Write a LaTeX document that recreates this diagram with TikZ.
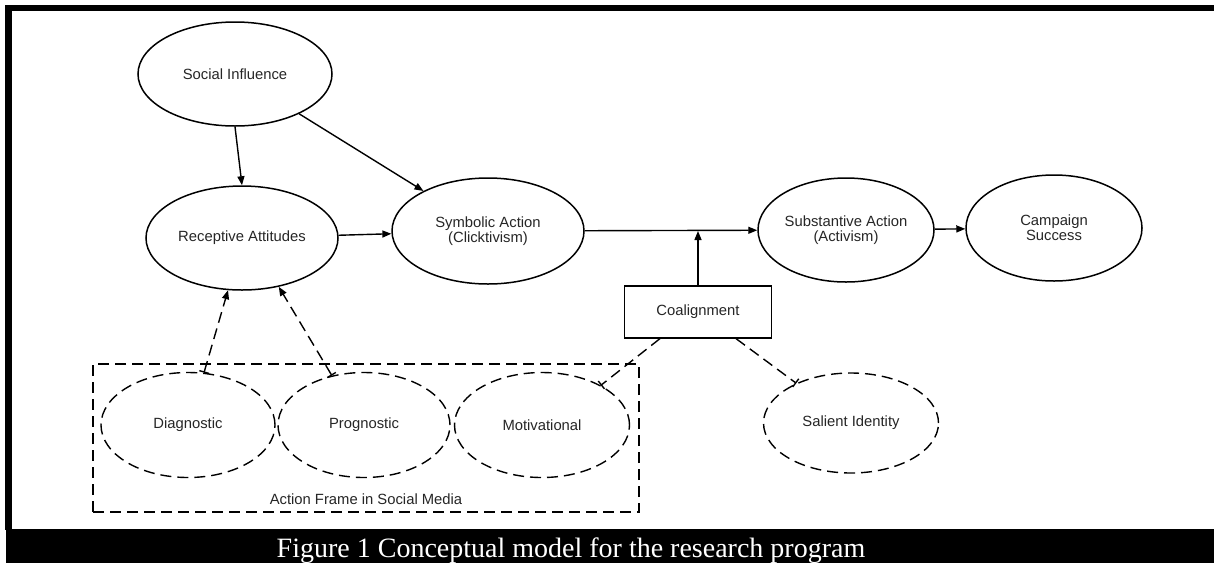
\documentclass[tikz,border=0pt]{standalone}
\usepackage{fontspec}
\setmainfont{Liberation Sans}
\newfontfamily\capfont{Liberation Serif}
\usetikzlibrary{arrows.meta,shapes.geometric}
\begin{document}
\begin{tikzpicture}[x=1pt,y=-1pt,
  lbl/.style={font=\fontsize{14.8}{14.8}\selectfont, text=black!85, align=center},
  ell/.style={ellipse, draw=black, line width=1.5pt, inner sep=0pt, lbl},
  dell/.style={ell, line width=1.4pt, dash pattern=on 11pt off 6pt},
  boxnode/.style={rectangle, draw=black, line width=1.4pt, inner sep=0pt, lbl},
  dashbox/.style={rectangle, draw=black, line width=1.4pt, inner sep=0pt, dash pattern=on 11pt off 6pt},
  edge/.style={draw=black, line width=1.4pt, -{Triangle[length=9pt,width=7pt]}},
  dedge/.style={draw=black, line width=1.4pt, dash pattern=on 11pt off 6pt},
]
\useasboundingbox (0,0) rectangle (1214,563);
\fill[white] (0,0) rectangle (1214,563);
% frame
\fill[black] (5,5) rectangle (1214,11);
\fill[black] (5,5) rectangle (12,530);
\fill[black] (6,529) rectangle (1214,563);
\node[anchor=base, text=white, font=\capfont\fontsize{28}{28}\selectfont, inner sep=0pt] (cap) at (571,557) {Figure 1 Conceptual model for the research program};

% dashed frame box
\node[dashbox, minimum width=546pt, minimum height=148pt] (af) at (366,438) {};
\node[lbl, inner sep=0pt] (aft) at (366,499) {Action Frame in Social Media};

% solid nodes
\node[ell, minimum width=194pt, minimum height=104pt] (si) at (235,74) {Social Influence};
\node[ell, minimum width=192pt, minimum height=104pt] (ra) at (242,238) {Receptive Attitudes};
\node[ell, minimum width=192pt, minimum height=106pt] (sa) at (488,231) {Symbolic Action\\(Clicktivism)};
\node[ell, minimum width=176pt, minimum height=104pt] (sb) at (846,230) {Substantive Action\\(Activism)};
\node[ell, minimum width=176pt, minimum height=106pt] (cs) at (1054,228) {Campaign\\Success};
\node[boxnode, minimum width=147pt, minimum height=52pt] (co) at (698,312) {Coalignment};

% dashed nodes
\node[dell, minimum width=174pt, minimum height=105pt] (dg) at (188,425) {Diagnostic};
\node[dell, minimum width=172pt, minimum height=105pt] (pg) at (364,425) {Prognostic};
\node[dell, minimum width=175pt, minimum height=105pt] (mo) at (542,425) {Motivational};
\node[dell, minimum width=175pt, minimum height=100pt] (sl) at (851,423) {Salient Identity};

% solid connectors
\draw[edge] (si.south) -- (ra.north);
\draw[edge] (si) -- (sa);
\draw[edge] (ra) -- (sa);
\draw[edge] (sa) -- (sb);
\draw[edge] (sb) -- (cs);
\coordinate (m) at (698,231);
\draw[edge] (co) -- (m);

% dashed connectors
\draw[dedge, {Bar[width=10pt]}-{Triangle[length=9pt,width=7pt]}] (dg.73) -- (ra.-105);
\draw[dedge, {Bar[width=10pt]}-{Triangle[length=9pt,width=7pt]}] (pg.123) -- (ra.-53);
\draw[dedge, -{Bar[width=10pt]}] (co.-145) -- (mo.34);
\draw[dedge, -{Bar[width=10pt]}] (co.-35) -- (sl.144);
\end{tikzpicture}
\end{document}
